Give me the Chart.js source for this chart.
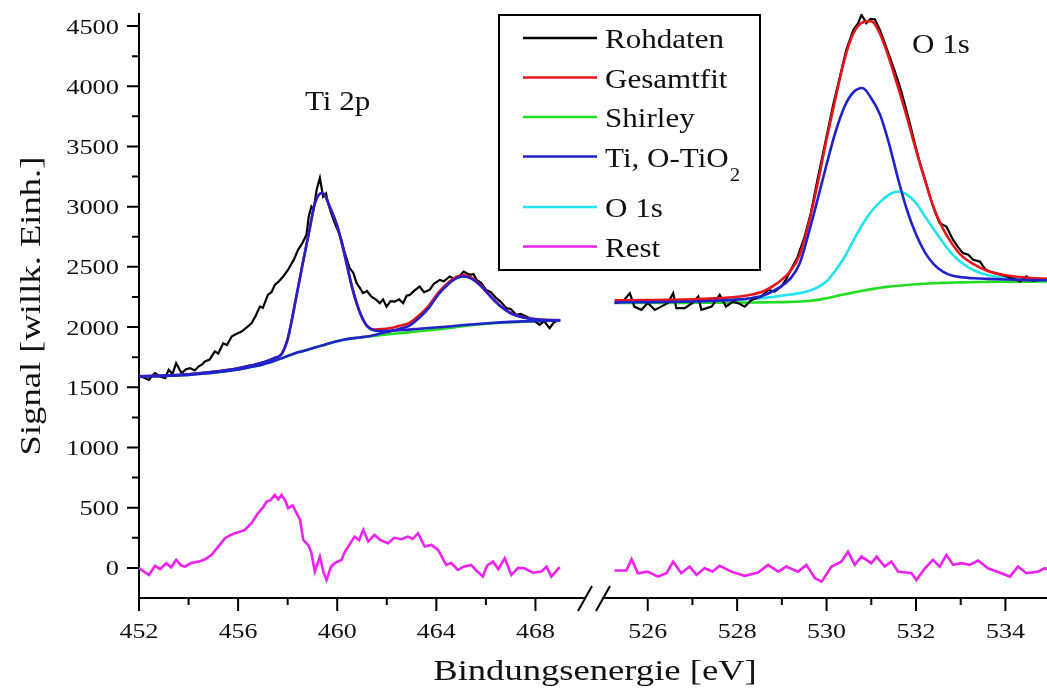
<!DOCTYPE html>
<html>
<head>
<meta charset="utf-8">
<title>XPS Ti 2p / O 1s</title>
<script src="https://cdn.jsdelivr.net/npm/chart.js@4.4.0/dist/chart.umd.min.js"></script>
<style>
  html, body { margin: 0; padding: 0; background: #fff; }
  canvas { display: block; }
</style>
</head>
<body>
<canvas id="xps" width="1047" height="689"></canvas>
<script>
// Ti 2p Rohdaten (eV, Signal)
const tiEnergy = [
  452.0, 452.1, 452.25, 452.4, 452.55, 452.65, 452.85, 453.05, 453.2, 453.35,
  453.5, 453.72, 453.9, 454.06, 454.25, 454.4, 454.55, 454.66, 454.85, 455.06,
  455.2, 455.4, 455.55, 455.74, 455.9, 456.14, 456.3, 456.54, 456.7, 456.88,
  457.0, 457.2, 457.35, 457.48, 457.65, 457.82, 458.0, 458.09, 458.25, 458.42,
  458.6, 458.76, 458.85, 458.96, 459.05, 459.17, 459.3, 459.43, 459.55, 459.63,
  459.75, 459.9, 460.05, 460.17, 460.3, 460.5, 460.65, 460.78, 460.9, 461.04,
  461.2, 461.38, 461.55, 461.72, 461.85, 461.99, 462.15, 462.32, 462.5, 462.66,
  462.8, 462.93, 463.1, 463.33, 463.5, 463.73, 463.9, 464.14, 464.3, 464.54,
  464.75, 464.94, 465.1, 465.35, 465.5, 465.62, 465.8, 466.01, 466.2, 466.42,
  466.6, 466.83, 467.0, 467.23, 467.4, 467.63, 467.9, 468.17, 468.35, 468.57,
  468.75, 468.98
];
const tiRaw = [
  1580, 1589, 1575, 1562, 1600, 1617, 1590, 1576, 1645, 1610,
  1700, 1617, 1650, 1659, 1640, 1672, 1690, 1714, 1730, 1797,
  1780, 1866, 1850, 1921, 1940, 1963, 1990, 2032, 2090, 2170,
  2160, 2267, 2290, 2350, 2380, 2420, 2470, 2503, 2560, 2641,
  2700, 2766, 2920, 3001, 2980, 3140, 3237, 3084, 3110, 3029,
  2950, 2863, 2790, 2724, 2620, 2490, 2450, 2365, 2330, 2282,
  2300, 2253, 2230, 2199, 2230, 2170, 2215, 2212, 2230, 2199,
  2260, 2267, 2300, 2337, 2290, 2309, 2360, 2392, 2380, 2420,
  2400, 2425, 2460, 2434, 2440, 2392, 2370, 2309, 2290, 2240,
  2210, 2157, 2150, 2101, 2110, 2087, 2060, 2018, 2050, 1991,
  2040, 2060
];

// Ti 2p fit curves
const tiFitEnergy = [452, 453, 454, 455, 456, 456.5, 457, 457.5, 457.75, 458,
  458.15, 458.3, 458.6, 458.9, 459.1, 459.4, 459.7, 460, 460.3, 460.6,
  460.9, 461.2, 461.5, 461.8, 462.1, 462.5, 462.9, 463.3, 463.7, 464.1,
  464.5, 464.8, 465.1, 465.4, 465.8, 466.2, 466.6, 467, 467.5, 468,
  468.5, 469];
const tiGesamt = [1592, 1597, 1608, 1628, 1658, 1680, 1705, 1745, 1775, 1900,
  2040, 2199, 2520, 2830, 3029, 3115, 3000, 2840, 2600, 2330,
  2130, 2010, 1980, 1983, 1990, 2010, 2033, 2096, 2179, 2291,
  2373, 2416, 2429, 2412, 2345, 2254, 2173, 2117, 2082, 2066,
  2059, 2057];
const tiShirley = [1590, 1594, 1603, 1620, 1648, 1668, 1690, 1722, 1740, 1760,
  1771, 1782, 1800, 1818, 1830, 1848, 1866, 1882, 1897, 1906,
  1914, 1921, 1927, 1934, 1941, 1949, 1956, 1965, 1973, 1982,
  1992, 2000, 2008, 2015, 2023, 2030, 2036, 2041, 2045, 2048,
  2051, 2054];
const tiPeak32 = [1592, 1597, 1608, 1628, 1658, 1680, 1705, 1745, 1775, 1900,
  2040, 2199, 2520, 2830, 3029, 3115, 3000, 2840, 2600, 2330,
  2130, 2010, 1972, 1967, 1969, 1974, 1979, 1986, 1992, 1998,
  2005, 2011, 2017, 2022, 2028, 2034, 2039, 2043, 2047, 2049,
  2052, 2055];
const tiPeak12 = [1590, 1594, 1603, 1620, 1648, 1668, 1690, 1722, 1740, 1760,
  1771, 1782, 1800, 1818, 1830, 1848, 1866, 1882, 1897, 1906,
  1914, 1921, 1935, 1950, 1962, 1985, 2010, 2075, 2160, 2275,
  2360, 2405, 2420, 2405, 2340, 2250, 2170, 2115, 2080, 2065,
  2058, 2056];

// Ti 2p Rest
const tiRestEnergy = [452.0, 452.1, 452.4, 452.65, 452.85, 453.1, 453.3, 453.5, 453.7, 453.85,
  454.1, 454.4, 454.65, 454.93, 455.2, 455.47, 455.67, 455.87, 456.07, 456.27,
  456.54, 456.8, 457.0, 457.15, 457.3, 457.48, 457.62, 457.75, 457.9, 458.02,
  458.2, 458.36, 458.5, 458.63, 458.83, 458.95, 459.1, 459.3, 459.45, 459.57,
  459.75, 459.9, 460.17, 460.3, 460.44, 460.7, 460.88, 461.05, 461.25, 461.5,
  461.75, 462.05, 462.3, 462.59, 462.85, 463.05, 463.26, 463.53, 463.8, 464.07,
  464.4, 464.6, 464.87, 465.1, 465.41, 465.6, 465.88, 466.05, 466.29, 466.5,
  466.76, 467.03, 467.3, 467.56, 467.9, 468.24, 468.45, 468.64, 468.98];
const tiRest = [0, -17, -58, 17, -10, 39, 5, 66, 20, 11,
  40, 52, 70, 108, 177, 247, 270, 288, 300, 316,
  371, 454, 500, 551, 560, 606, 570, 606, 560, 496,
  520, 454, 400, 233, 191, 130, -31, 94, -40, -100,
  10, 39, 66, 130, 177, 260, 230, 316, 219, 274,
  230, 205, 250, 238, 260, 240, 288, 177, 190, 150,
  25, 40, -17, 10, 25, -20, -72, 20, 52, -10,
  80, -58, 0, -3, -40, -31, 10, -72, 6];

// O 1s Rohdaten
const oEnergy = [
  525.26, 525.45, 525.6, 525.7, 525.86, 526.0, 526.16, 526.3, 526.45, 526.57,
  526.64, 526.83, 527.0, 527.13, 527.2, 527.43, 527.61, 527.75, 527.9, 528.02,
  528.17, 528.32, 528.54, 528.69, 528.84, 528.99, 529.1, 529.2, 529.35, 529.5,
  529.65, 529.8, 530.0, 530.15, 530.3, 530.44, 530.6, 530.7, 530.78, 530.89,
  530.98, 531.08, 531.19, 531.3, 531.41, 531.52, 531.64, 531.75, 531.86, 531.97,
  532.09, 532.2, 532.31, 532.42, 532.53, 532.68, 532.83, 532.95, 533.05, 533.17,
  533.28, 533.43, 533.55, 533.65, 533.85, 534.03, 534.2, 534.33, 534.47, 534.6,
  534.77, 534.92, 535.0
];
const oRaw = [
  2199, 2215, 2282, 2170, 2143, 2200, 2143, 2170, 2200, 2282,
  2157, 2157, 2200, 2254, 2143, 2170, 2267, 2170, 2210, 2199,
  2170, 2226, 2254, 2309, 2295, 2337, 2400, 2475, 2580, 2740,
  2950, 3230, 3582, 3850, 4081, 4300, 4469, 4520, 4593, 4524,
  4560, 4557, 4469, 4360, 4247, 4130, 3998, 3850, 3694, 3530,
  3361, 3230, 3084, 2960, 2863, 2835, 2724, 2660, 2614, 2600,
  2558, 2544, 2480, 2461, 2440, 2420, 2400, 2378, 2420, 2385,
  2392, 2400, 2395
];

// O 1s fit curves
const oFitEnergy = [525.26, 526, 527, 527.5, 528, 528.3, 528.6, 528.9, 529.2, 529.4,
  529.6, 529.8, 530, 530.2, 530.4, 530.6, 530.8, 531, 531.2, 531.4,
  531.6, 531.8, 532, 532.2, 532.4, 532.6, 532.8, 533, 533.3, 533.6,
  534, 534.5, 535];
const oGesamt = [2222, 2224, 2230, 2238, 2252, 2268, 2300, 2365, 2470, 2600,
  2860, 3190, 3560, 3900, 4220, 4440, 4530, 4540, 4430, 4230,
  3990, 3740, 3470, 3220, 2990, 2820, 2695, 2600, 2520, 2465,
  2430, 2410, 2400];
const oShirley = [2200, 2200, 2201, 2202, 2203, 2204, 2205, 2207, 2209, 2212,
  2217, 2226, 2240, 2256, 2272, 2287, 2302, 2315, 2327, 2336,
  2343, 2350, 2355, 2360, 2364, 2367, 2369, 2371, 2373, 2375,
  2376, 2377, 2378];
const oTiO2 = [2205, 2207, 2212, 2218, 2228, 2240, 2265, 2320, 2406, 2530,
  2780, 3060, 3350, 3620, 3830, 3950, 3985, 3900, 3760, 3520,
  3230, 2970, 2770, 2620, 2520, 2460, 2428, 2415, 2405, 2400,
  2395, 2390, 2388];
const oO1s = [2208, 2210, 2215, 2220, 2228, 2234, 2242, 2255, 2270, 2282,
  2300, 2330, 2380, 2470, 2580, 2720, 2850, 2960, 3040, 3100,
  3126, 3100, 3030, 2920, 2810, 2705, 2610, 2540, 2470, 2432,
  2408, 2396, 2390];

// O 1s Rest
const oRestEnergy = [525.26, 525.52, 525.64, 525.78, 526.0, 526.23, 526.42, 526.57, 526.75, 526.94,
  527.09, 527.27, 527.45, 527.61, 527.87, 528.17, 528.47, 528.69, 528.92, 529.1,
  529.36, 529.55, 529.74, 529.89, 530.11, 530.33, 530.48, 530.63, 530.78, 531.0,
  531.12, 531.3, 531.45, 531.6, 531.9, 532.01, 532.2, 532.38, 532.53, 532.68,
  532.83, 533.02, 533.2, 533.39, 533.61, 533.91, 534.1, 534.28, 534.47, 534.73,
  534.88, 535.0];
const oRest = [-22, -22, 72, -44, -31, -72, -44, 52, -44, 11,
  -58, -3, -30, 17, -31, -66, -39, 25, -31, 11,
  -31, 25, -86, -114, 11, 52, 135, 25, 94, 39,
  94, 11, 52, -31, -44, -100, -3, 66, 11, 108,
  25, 39, 25, 61, -3, -44, -72, 11, -44, -31,
  -3, -20];

// ticks
const yTicks = [0, 500, 1000, 1500, 2000, 2500, 3000, 3500, 4000, 4500];
const yMinorTicks = [250, 750, 1250, 1750, 2250, 2750, 3250, 3750, 4250];
const tiTicks = [452, 456, 460, 464, 468];
const tiMinorTicks = [454, 458, 462, 466];
const oTicks = [526, 528, 530, 532, 534];
const oMinorTicks = [527, 529, 531, 533];

const seriesNames = ['Rohdaten', 'Gesamtfit', 'Shirley', 'Ti, O-TiO₂', 'O 1s', 'Rest'];
const seriesColors = ['#000000', '#e8161c', '#22dd22', '#2222cc', '#22e4ee', '#ee22ee'];

const FONT = '"Liberation Serif", "Times New Roman", serif';

function pts(xs, ys) {
  return xs.map((x, i) => ({ x: x, y: ys[i] }));
}

function curve(idx, xs, ys, axis, order, smooth) {
  return {
    label: seriesNames[idx],
    data: pts(xs, ys),
    xAxisID: axis,
    yAxisID: 'y',
    borderColor: seriesColors[idx],
    borderWidth: idx === 0 ? 2.2 : 2.6,
    pointRadius: 0,
    fill: false,
    order: order,
    tension: smooth ? 0.4 : 0,
    cubicInterpolationMode: smooth ? 'monotone' : 'default'
  };
}

// text drawn a bit wider than the font, like in the original figure
function wideText(ctx, str, x, y, size, align, stretch) {
  ctx.save();
  ctx.font = size + 'px ' + FONT;
  const w = ctx.measureText(str).width * stretch;
  let x0 = x;
  if (align === 'right') x0 = x - w;
  if (align === 'center') x0 = x - w / 2;
  ctx.translate(x0, y);
  ctx.scale(stretch, 1);
  ctx.textAlign = 'left';
  ctx.textBaseline = 'alphabetic';
  ctx.fillStyle = '#111';
  ctx.fillText(str, 0, 0);
  ctx.restore();
  return w;
}

const decor = {
  id: 'decor',
  afterDraw(chart) {
    const ctx = chart.ctx;
    const area = chart.chartArea;
    const ys = chart.scales.y, xl = chart.scales.xL, xr = chart.scales.xR;

    ctx.save();
    ctx.strokeStyle = '#000';
    ctx.lineWidth = 2;
    ctx.beginPath();
    yTicks.forEach(v => { const p = ys.getPixelForValue(v); ctx.moveTo(area.left - 12, p); ctx.lineTo(area.left, p); });
    yMinorTicks.forEach(v => { const p = ys.getPixelForValue(v); ctx.moveTo(area.left - 7, p); ctx.lineTo(area.left, p); });
    tiTicks.forEach(v => { const p = xl.getPixelForValue(v); ctx.moveTo(p, area.bottom); ctx.lineTo(p, area.bottom + 13); });
    tiMinorTicks.forEach(v => { const p = xl.getPixelForValue(v); ctx.moveTo(p, area.bottom); ctx.lineTo(p, area.bottom + 7); });
    oTicks.forEach(v => { const p = xr.getPixelForValue(v); ctx.moveTo(p, area.bottom); ctx.lineTo(p, area.bottom + 13); });
    oMinorTicks.forEach(v => { const p = xr.getPixelForValue(v); ctx.moveTo(p, area.bottom); ctx.lineTo(p, area.bottom + 7); });
    // axis break
    [xl.right, xr.left].forEach(b => { ctx.moveTo(b - 7, area.bottom + 13); ctx.lineTo(b + 7, area.bottom - 12); });
    ctx.stroke();

    // legend
    const lx = 499, ly = 15;
    ctx.fillStyle = '#fff';
    ctx.fillRect(lx, ly, 261, 255);
    ctx.strokeRect(lx, ly, 261, 255);
    const rows = [48, 87.5, 127, 166.5, 217, 256.5];
    ctx.lineWidth = 2.6;
    seriesNames.forEach((name, i) => {
      ctx.strokeStyle = seriesColors[i];
      ctx.beginPath();
      ctx.moveTo(523, rows[i] - 10);
      ctx.lineTo(597, rows[i] - 10);
      ctx.stroke();
      const parts = name.split('₂');
      const w = wideText(ctx, parts[0], 605, rows[i], 27, 'left', 1.15);
      if (parts.length > 1) wideText(ctx, '2', 605 + w + 1, rows[i] + 14, 18, 'left', 1.15);
    });
    ctx.restore();

    // tick labels
    yTicks.forEach(v => wideText(ctx, String(v), area.left - 20, ys.getPixelForValue(v) + 7.5, 22, 'right', 1.2));
    tiTicks.forEach(v => wideText(ctx, String(v), xl.getPixelForValue(v), area.bottom + 40, 22, 'center', 1.18));
    oTicks.forEach(v => wideText(ctx, String(v), xr.getPixelForValue(v), area.bottom + 40, 22, 'center', 1.18));

    // axis titles
    wideText(ctx, 'Bindungsenergie [eV]', area.left + 456, area.bottom + 82, 30, 'center', 1.22);
    ctx.save();
    ctx.translate(40, (area.top + area.bottom) / 2);
    ctx.rotate(-Math.PI / 2);
    wideText(ctx, 'Signal [willk. Einh.]', 0, 0, 30, 'center', 1.22);
    ctx.restore();

    // peak annotations
    wideText(ctx, 'Ti 2p', 305, 110, 27, 'left', 1.15);
    wideText(ctx, 'O 1s', 912, 53, 27, 'left', 1.15);
  }
};

const hiddenAxis = {
  ticks: { display: false },
  grid: { display: false, drawTicks: false },
  border: { display: true, color: '#000', width: 2 }
};

new Chart(document.getElementById('xps'), {
  type: 'line',
  data: {
    datasets: [
      curve(3, tiFitEnergy, tiPeak32, 'xL', 0, true),
      curve(3, tiFitEnergy, tiPeak12, 'xL', 0, true),
      curve(3, oFitEnergy, oTiO2, 'xR', 0, true),
      curve(1, tiFitEnergy, tiGesamt, 'xL', 1, true),
      curve(1, oFitEnergy, oGesamt, 'xR', 1, true),
      curve(0, tiEnergy, tiRaw, 'xL', 2, false),
      curve(0, oEnergy, oRaw, 'xR', 2, false),
      curve(4, oFitEnergy, oO1s, 'xR', 3, true),
      curve(2, tiFitEnergy, tiShirley, 'xL', 4, true),
      curve(2, oFitEnergy, oShirley, 'xR', 4, true),
      curve(5, tiRestEnergy, tiRest, 'xL', 5, false),
      curve(5, oRestEnergy, oRest, 'xR', 5, false)
    ]
  },
  options: {
    responsive: false,
    animation: false,
    devicePixelRatio: 1,
    layout: { padding: { left: 139, top: 14, right: 0, bottom: 91 } },
    plugins: { legend: { display: false }, tooltip: { enabled: false } },
    scales: {
      xL: Object.assign({ type: 'linear', position: 'bottom', stack: 'energy', stackWeight: 446, weight: 1, min: 452, max: 470 }, hiddenAxis),
      xGap: { type: 'linear', position: 'bottom', stack: 'energy', stackWeight: 18, weight: 2, min: 0, max: 1,
        ticks: { display: false }, grid: { display: false, drawTicks: false }, border: { display: false } },
      xR: Object.assign({ type: 'linear', position: 'bottom', stack: 'energy', stackWeight: 444, weight: 3, min: 525, max: 534.93 }, hiddenAxis),
      y: Object.assign({ type: 'linear', position: 'left', min: -250, max: 4600 }, hiddenAxis)
    }
  },
  plugins: [decor]
});
</script>
</body>
</html>
